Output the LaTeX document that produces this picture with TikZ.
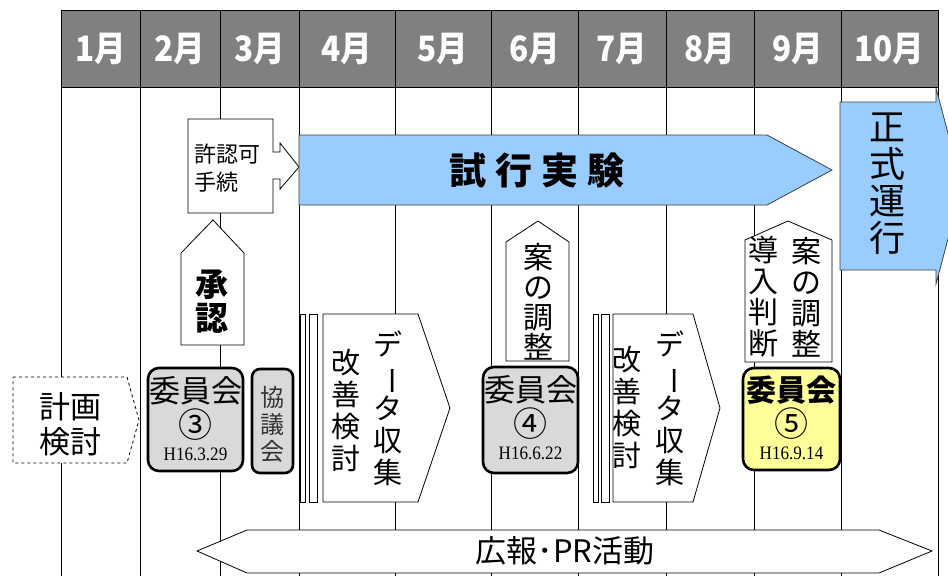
\documentclass[tikz,border=0pt]{standalone}
\usepackage{fontspec}
\usepackage{graphicx}
\newfontfamily\jp{Noto Sans CJK JP}
\newfontfamily\jpn{Noto Sans CJK JP}[FakeStretch=0.9]
\newfontfamily\dt{Liberation Serif}[FakeStretch=0.9]
\definecolor{hdrgray}{HTML}{808080}
\definecolor{skyb}{HTML}{99CCFF}
\definecolor{cgray}{HTML}{D9D9D9}
\definecolor{cyel}{HTML}{FFFF99}
\newcommand{\vbar}{\rotatebox[origin=c]{-90}{ー}}
\begin{document}
\begin{tikzpicture}[x=1pt,y=-1pt,
  gridline/.style={draw=black,line width=0.8pt},
  hdr/.style={fill=hdrgray,draw=black,line width=0.8pt},
  hdrtxt/.style={text=white,font=\jpn\bfseries\fontsize{35}{36}\selectfont,inner sep=0pt},
  wbox/.style={draw=black,fill=white,line width=0.8pt},
  bluebox/.style={draw=black!75,fill=skyb,line width=0.8pt},
  cbox/.style={draw=black,line width=2.6pt,rounded corners=11pt,fill=cgray},
  vt/.style={align=center,inner sep=0pt},
  vtxt/.style={vt,font=\jp\fontsize{29}{32}\selectfont},
  ctitle/.style={inner sep=0pt,font=\jp\fontsize{31}{32}\selectfont},
  cnum/.style={inner sep=0pt,font=\jp\fontsize{34}{35}\selectfont},
  cdate/.style={inner sep=0pt,font=\dt\fontsize{19}{20}\selectfont},
 ]
\useasboundingbox[fill=white] (0,0) rectangle (948,576);
\begin{scope}
\clip (0,0) rectangle (948,576);
% grid lines
\foreach \x in {61,140,220,299,395,491,578,666,754,841,938}
  \draw[gridline] (\x,87) -- (\x,576);
% header
\foreach \a/\b/\m [count=\i] in {61/140/1月,140/220/2月,220/299/3月,299/395/4月,395/491/5月,491/578/6月,578/666/7月,666/754/8月,754/841/9月,841/938/10月}{
  \draw[hdr] (\a,10) rectangle (\b,87);
  \node[hdrtxt] (h\i) at ({(\a+\b)/2},49) {\m};
}
% 許認可手続 callout
\draw[wbox] (188,119) -- (273,119) -- (273,152) -- (280,152) -- (280,143) -- (299,167)
  -- (280,189) -- (280,179) -- (273,179) -- (273,213) -- (188,213) -- cycle;
\node[inner sep=0pt,align=left,anchor=west,font=\jp\fontsize{22}{28}\selectfont] (kyo) at (194,168) {許認可\\手続};
% 試行実験
\draw[bluebox] (299,135) -- (767,135) -- (832,170) -- (767,205) -- (299,205) -- cycle;
\node[inner sep=0pt,font=\jp\bfseries\fontsize{37}{38}\selectfont] (shiko) at (537,170) {試\kern9pt 行\kern9pt 実\kern9pt 験};
% 正式運行
\draw[bluebox] (840,102) -- (936,102) -- (936,88) -- (962,186) -- (936,284) -- (936,270) -- (840,270) -- cycle;
\node[vt,font=\jp\fontsize{36}{37}\selectfont] (seishiki) at (887,184) {正\\式\\運\\行};
% 承認
\draw[wbox] (181,345) -- (181,253) -- (213,220) -- (244,253) -- (244,345) -- cycle;
\node[vt,font=\jp\bfseries\fontsize{33}{34}\selectfont] (shonin) at (212,302) {承\\認};
% 計画検討
\draw[draw=black,dashed,line width=0.8pt,fill=white] (13,377) -- (127,377) -- (139,420) -- (127,463) -- (13,463) -- cycle;
\node[vt,font=\jp\fontsize{31}{35}\selectfont] (keikaku) at (70,424) {計画\\検討};
% 委員会 3
\draw[cbox] (148,368) rectangle (243,471);
\node[ctitle] (c3a) at (195.5,391) {委員会};
\node[cnum] (c3b) at (195.5,425) {③};
\node[cdate] (c3c) at (195.5,454) {H16.3.29};
% 協議会
\draw[cbox,rounded corners=8pt] (252,369) rectangle (293,473);
\node[vt,text=black!80,font=\jp\fontsize{24}{27}\selectfont] (kyogi) at (272.5,424) {協\\議\\会};
% データ収集 1
\draw[wbox] (300,314) rectangle (305,502);
\draw[wbox] (309,314) rectangle (317,502);
\draw[wbox] (323,314) -- (418,314) -- (450,408) -- (418,502) -- (323,502) -- cycle;
\node[vtxt] (kaizen1) at (346,410) {改\\善\\検\\討};
\node[vtxt] (data1) at (388,408) {デ\\\vbar\\タ\\収\\集};
% 案の調整 6月
\draw[wbox] (506,361) -- (506,242) -- (538,221) -- (569,242) -- (569,361) -- cycle;
\node[vt,font=\jp\fontsize{30}{30}\selectfont] (an1) at (538,302) {案\\の\\調\\整};
% 委員会 4
\draw[cbox] (483,367) rectangle (578,473);
\node[ctitle] (c4a) at (530.5,390) {委員会};
\node[cnum] (c4b) at (530.5,424) {④};
\node[cdate] (c4c) at (530.5,453) {H16.6.22};
% データ収集 2
\draw[wbox] (593,314) rectangle (598,502);
\draw[wbox] (601,314) rectangle (609,502);
\draw[wbox] (613,314) -- (693,314) -- (720,408) -- (693,502) -- (613,502) -- cycle;
\node[vtxt] (kaizen2) at (627,407) {改\\善\\検\\討};
\node[vtxt] (data2) at (670,408) {デ\\\vbar\\タ\\収\\集};
% 導入判断 / 案の調整 9月
\draw[wbox] (745,362) -- (745,240) -- (788,221) -- (832,240) -- (832,362) -- cycle;
\node[vt,font=\jp\fontsize{30}{31}\selectfont] (donyu) at (763,297) {導\\入\\判\\断};
\node[vt,font=\jp\fontsize{30}{31}\selectfont] (an2) at (806,297) {案\\の\\調\\整};
% 委員会 5
\draw[cbox,fill=cyel] (743,368) rectangle (840,470);
\node[ctitle,font=\jp\bfseries\fontsize{30}{32}\selectfont] (c5a) at (791.5,390) {委員会};
\node[cnum] (c5b) at (791.5,424) {⑤};
\node[cdate] (c5c) at (791.5,453) {H16.9.14};
% 広報・PR活動
\draw[wbox] (197,551) -- (247,530) -- (879,530) -- (932,551) -- (879,573) -- (247,573) -- cycle;
\node[inner sep=0pt,font=\jp\fontsize{31}{32}\selectfont] (pr) at (565,551) {広報･PR活動};
\end{scope}
\end{tikzpicture}
\end{document}
